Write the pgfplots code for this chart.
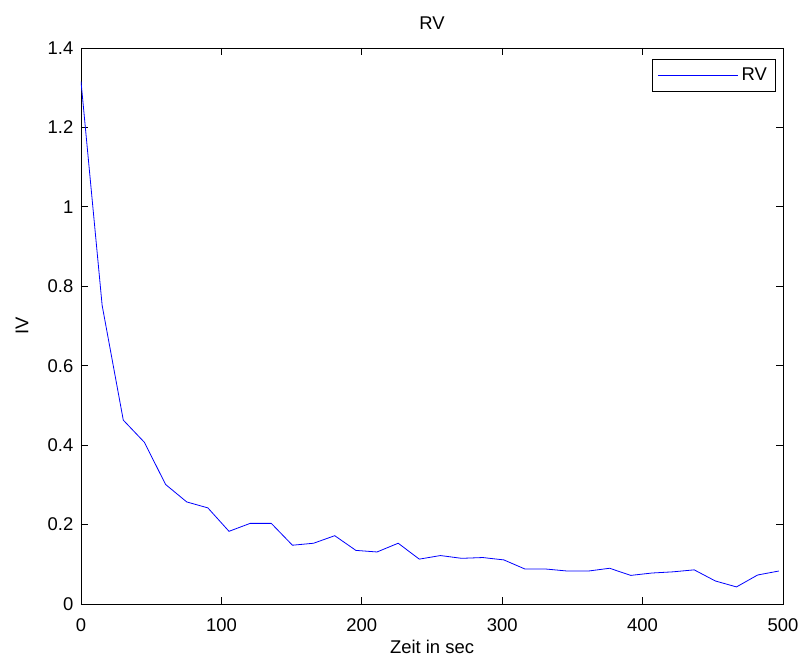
\documentclass[border=0pt]{standalone}
\usepackage{fontspec}
\setmainfont{Liberation Sans}
\usepackage{pgfplots}
\pgfplotsset{compat=1.18}
\begin{document}
\begin{tikzpicture}
\begin{axis}[
  scale only axis,
  width=702bp, height=556bp,
  xmin=0, xmax=500, ymin=0, ymax=1.4,
  xtick={0,100,...,500},
  ytick={0,0.2,0.4,0.6,0.8,1,1.2,1.4},
  /pgf/number format/assume math mode=true,
  every axis/.append style={font=\fontsize{18.5}{22}\selectfont},
  tick align=inside,
  major tick length=7bp,
  axis line style={line width=0.8bp},
  every tick/.style={black, line width=0.8bp},
  xticklabel style={anchor=base, yshift=-27bp, inner sep=0pt},
  yticklabel style={anchor=east, xshift=-7.5bp, inner sep=0pt},
  title={RV},
  title style={at={(axis description cs:0.5,1)}, anchor=base, yshift=12.5bp, inner sep=0pt},
  xlabel={Zeit in sec},
  xlabel style={at={(axis description cs:0.5,0)}, anchor=base, yshift=-49.3bp, inner sep=0pt},
  ylabel={IV},
  ylabel style={at={(axis description cs:-0.075,0.5)}, anchor=base, inner sep=0pt},
  legend style={at={(axis description cs:0.9886,0.980)}, anchor=north east, draw=black, text=blue, inner xsep=5bp, inner ysep=6bp, nodes={inner sep=3bp}},
  legend cell align=left,
  legend image code/.code={\draw[draw=blue, line width=1bp] (0bp,0bp) -- (80bp,0bp);},
]
\addplot[color=blue, line width=0.8bp] coordinates {
(0,1.316) (15.06,0.752) (30.12,0.463) (45.18,0.407) (60.24,0.301) (75.3,0.257)
(90.36,0.242) (105.42,0.183) (120.48,0.203) (135.54,0.203) (150.6,0.148)
(165.66,0.153) (180.72,0.172) (195.78,0.135) (210.84,0.131) (225.9,0.153)
(240.96,0.113) (256.02,0.122) (271.08,0.115) (286.14,0.117) (301.2,0.111)
(316.26,0.088) (331.32,0.088) (346.38,0.083) (361.44,0.083) (376.5,0.090)
(391.56,0.072) (406.62,0.078) (421.68,0.081) (436.74,0.086) (451.8,0.058)
(466.86,0.043) (481.92,0.073) (496.98,0.083)
};
\addlegendentry{\textcolor{black}{RV}}
\end{axis}
\pgfresetboundingbox
\useasboundingbox (-81bp,-55bp) rectangle (723bp,604bp);
\end{tikzpicture}
\end{document}
